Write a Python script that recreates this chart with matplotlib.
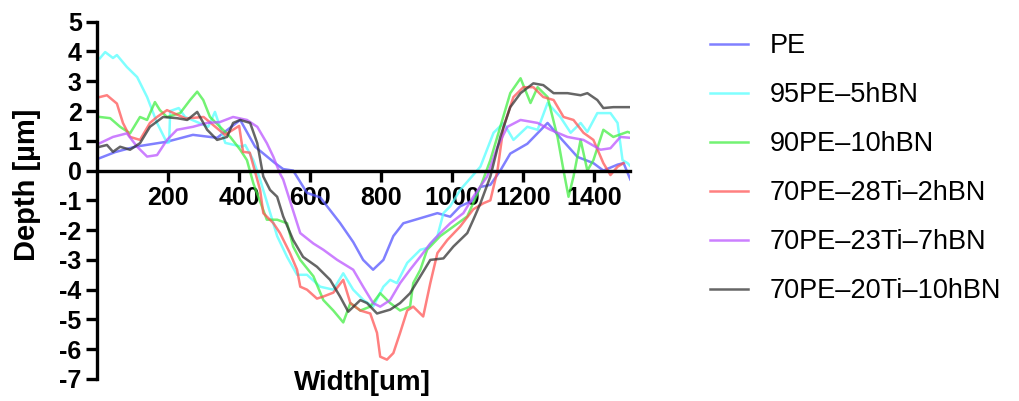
import numpy as np
import matplotlib
matplotlib.use('Agg')
import matplotlib.pyplot as plt

plt.rcParams['font.family'] = ['Liberation Sans', 'DejaVu Sans']
plt.rcParams['axes.unicode_minus'] = False

# series (width in um, depth in um)
pe_x = [8, 51, 107, 197, 270, 338, 403, 445, 501, 524, 552, 591, 628, 684, 721, 749, 777,
        806, 834, 862, 910, 958, 994, 1022, 1059, 1079, 1107, 1135, 1163, 1211, 1268, 1304,
        1352, 1397, 1425, 1465, 1482, 1501]
pe_y = [0.42, 0.62, 0.8, 0.97, 1.2, 1.1, 1.7, 0.8, 0.25, 0.05, 0.0, -0.75, -0.9, -1.76, -2.4,
        -3.0, -3.33, -3.0, -2.2, -1.77, -1.6, -1.43, -1.55, -1.2, -1.0, -0.55, -0.48, 0.0,
        0.57, 0.9, 1.6, 1.1, 0.46, 0.25, 0.0, 0.2, 0.25, -0.3]

cy_x = [8, 23, 45, 56, 84, 113, 141, 169, 197, 203, 206, 230, 248, 313, 332, 361, 408, 417,
        440, 459, 507, 535, 563, 591, 628, 665, 693, 721, 750, 777, 806, 825, 844, 873, 910,
        929, 958, 975, 994, 1022, 1079, 1116, 1144, 1172, 1211, 1240, 1268, 1304, 1333, 1361,
        1380, 1408, 1445, 1465, 1479, 1493, 1505]
cy_y = [3.77, 3.98, 3.78, 3.88, 3.48, 3.14, 2.47, 1.6, 0.93, 0.95, 2.0, 2.1, 1.8, 1.47, 1.97,
        0.93, 0.8, 0.86, 0.35, -0.3, -2.2, -2.9, -3.5, -3.5, -3.9, -4.0, -3.45, -4.0, -4.35,
        -4.57, -3.9, -3.67, -3.78, -3.1, -2.66, -2.6, -2.2, -1.43, -1.2, -0.65, 0.13, 1.27,
        1.6, 1.03, 1.47, 1.37, 2.27, 1.8, 1.27, 1.6, 1.3, 1.93, 1.93, 1.6, 0.35, 0.25, 0.1]

gr_x = [8, 37, 65, 93, 121, 141, 163, 177, 197, 234, 262, 282, 299, 318, 346, 375, 403, 422,
        440, 478, 507, 535, 552, 572, 609, 637, 665, 693, 713, 741, 769, 797, 825, 853, 881,
        890, 910, 929, 966, 1003, 1042, 1079, 1107, 1135, 1163, 1192, 1220, 1240, 1268, 1296,
        1313, 1327, 1341, 1361, 1380, 1397, 1425, 1453, 1493, 1505]
gr_y = [1.8, 1.76, 1.47, 1.25, 1.8, 1.7, 2.3, 2.03, 1.8, 1.93, 2.37, 2.65, 2.37, 1.8, 1.47,
        1.13, 0.7, 0.35, -0.43, -1.65, -1.65, -1.77, -2.55, -3.0, -3.55, -4.35, -4.7, -5.1,
        -4.45, -4.7, -4.57, -4.12, -4.45, -4.7, -4.57, -3.78, -3.33, -2.66, -2.2, -1.88, -1.54,
        -0.55, 0.35, 1.47, 2.6, 3.1, 2.27, 2.8, 2.47, 1.13, 0.0, -0.88, -0.2, 1.03, 0.0, 0.35,
        1.37, 1.13, 1.3, 1.25]

rd_x = [8, 28, 56, 73, 93, 121, 149, 169, 197, 250, 300, 360, 400, 411, 430, 459, 468, 496,
        515, 543, 563, 572, 591, 619, 637, 665, 693, 713, 741, 769, 788, 797, 816, 834, 853,
        873, 890, 918, 938, 958, 986, 1022, 1059, 1087, 1107, 1127, 1144, 1172, 1200, 1228,
        1256, 1285, 1313, 1341, 1369, 1397, 1425, 1445, 1465, 1482]
rd_y = [2.47, 2.53, 2.25, 1.6, 1.13, 1.03, 1.6, 1.8, 2.03, 1.75, 1.8, 1.2, 1.5, 0.63, 0.6,
        -0.65, -1.43, -1.76, -2.1, -2.77, -3.33, -3.9, -4.0, -4.3, -4.23, -4.1, -3.67, -4.45,
        -4.7, -4.8, -5.45, -6.25, -6.35, -6.13, -5.45, -4.7, -4.57, -4.9, -3.78, -2.77, -2.33,
        -1.88, -1.3, -1.1, -1.0, 0.0, 1.47, 2.47, 2.8, 2.8, 2.47, 2.37, 1.8, 1.7, 1.27, 1.03,
        0.25, -0.15, 0.13, 0.25]

pu_x = [8, 45, 84, 113, 141, 169, 197, 225, 270, 310, 346, 383, 422, 451, 478, 496, 515, 524,
        572, 609, 637, 676, 721, 749, 777, 797, 825, 853, 881, 910, 938, 966, 994, 1031, 1059,
        1098, 1127, 1155, 1192, 1240, 1276, 1324, 1369, 1417, 1445, 1473, 1501]
pu_y = [0.92, 1.13, 1.25, 0.8, 0.47, 0.52, 1.03, 1.37, 1.47, 1.6, 1.63, 1.8, 1.7, 1.47, 0.92,
        0.47, -0.1, -0.3, -2.1, -2.45, -2.66, -3.0, -3.33, -3.9, -4.45, -4.57, -4.35, -3.78,
        -3.33, -2.89, -2.45, -2.1, -1.77, -1.43, -0.88, -0.2, 0.8, 1.47, 1.7, 1.6, 1.37, 1.13,
        1.03, 0.7, 0.75, 1.13, 1.1]

gy_x = [8, 28, 45, 65, 93, 121, 149, 186, 225, 254, 282, 310, 338, 366, 383, 403, 431, 451,
        468, 487, 507, 524, 552, 580, 619, 656, 684, 707, 741, 760, 788, 825, 853, 881, 910,
        938, 975, 1003, 1042, 1059, 1079, 1107, 1135, 1163, 1192, 1228, 1256, 1285, 1324,
        1361, 1380, 1408, 1425, 1453, 1501]
gy_y = [0.8, 0.86, 0.63, 0.8, 0.7, 0.92, 1.47, 1.8, 1.76, 1.7, 1.97, 1.37, 1.03, 1.13, 1.6,
        1.7, 1.6, 0.92, -0.2, -0.65, -0.88, -1.54, -2.33, -2.9, -3.23, -3.67, -4.23, -4.74,
        -4.35, -4.45, -4.8, -4.67, -4.45, -4.12, -3.55, -3.0, -2.95, -2.55, -2.1, -1.65, -1.1,
        -0.2, 1.13, 2.13, 2.6, 2.93, 2.87, 2.6, 2.6, 2.53, 2.6, 2.37, 2.1, 2.13, 2.13]

labels = ['PE', '95PE–5hBN', '90PE–10hBN', '70PE–28Ti–2hBN', '70PE–23Ti–7hBN', '70PE–20Ti–10hBN']
colors = ['#5555ff', '#55ffff', '#44ee44', '#ff5555', '#bb55ff', '#333333']
xticks = [200, 400, 600, 800, 1000, 1200, 1400]
yticks = list(range(-7, 6))

series = [(pe_x, pe_y), (cy_x, cy_y), (gr_x, gr_y), (rd_x, rd_y), (pu_x, pu_y), (gy_x, gy_y)]

fig = plt.figure(figsize=(10.19, 4.01), dpi=100)
ax = fig.add_axes([97/1019, 1 - 379/401, 533/1019, (379 - 21.7)/401])

for (xs, ys), lab, c in zip(series, labels, colors):
    ax.plot(xs, ys, color=c, lw=1.8, alpha=0.75, label=lab)

ax.set_xlim(0, 1500)
ax.set_ylim(-7, 5)
ax.spines['top'].set_visible(False)
ax.spines['right'].set_visible(False)
ax.spines['bottom'].set_position(('data', 0))
ax.spines['bottom'].set_linewidth(2.4)
ax.spines['left'].set_linewidth(2.4)
ax.set_xticks(xticks)
ax.set_yticks(yticks)
ax.tick_params(axis='both', direction='out', length=8, width=2.4, labelsize=18, pad=3)
for t in ax.get_xticklabels() + ax.get_yticklabels():
    t.set_fontweight('bold')

# axis titles placed like the reference
fig.text(27/1019, 1 - 185/401, 'Depth [µm]', rotation=90, ha='center', va='center',
         fontsize=21, fontweight='bold')
fig.text(362/1019, 1 - 383/401, 'Width[um]', ha='center', va='center', fontsize=20, fontweight='bold')

fig.legend(loc='upper left', bbox_to_anchor=(0.673, 0.978), frameon=False, fontsize=19.5,
           handlelength=1.4, handletextpad=0.8, labelspacing=0.85)

fig.savefig('out.png', dpi=100)
